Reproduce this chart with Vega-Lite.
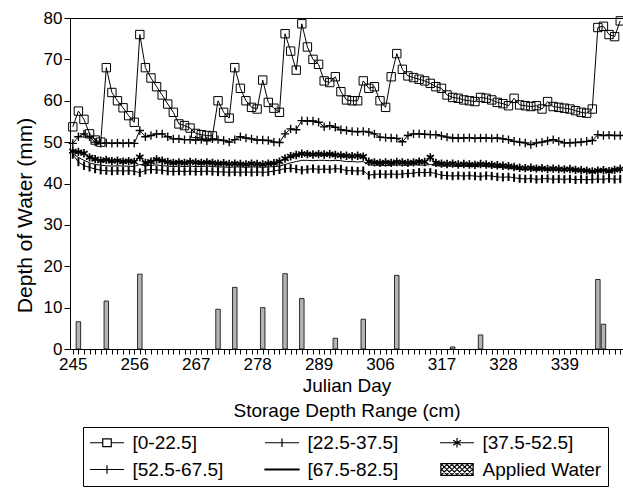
{
"$schema":"https://vega.github.io/schema/vega-lite/v6.json",
"width":553,"height":331,
"autosize":{"type":"none"},
"padding":{"left":70,"top":18,"right":0,"bottom":147},
"config":{"font":"Liberation Sans","view":{"stroke":"black","strokeWidth":1},
"axis":{"domainColor":"black","tickColor":"black","labelColor":"black","titleColor":"black","titleFontWeight":"normal","grid":false,"labelFont":"Liberation Sans","titleFont":"Liberation Sans"}},
"datasets":{
"depth":[
{"day":245,"s1":53.7,"s2":49.7,"s3":47.8,"s4":47.0,"s5":47.2},
{"day":246,"s1":57.5,"s2":51.3,"s3":47.6,"s4":45.2,"s5":46.3},
{"day":247,"s1":55.5,"s2":52.0,"s3":47.3,"s4":44.3,"s5":45.6},
{"day":248,"s1":52.0,"s2":51.3,"s3":46.3,"s4":43.9,"s5":45.0},
{"day":249,"s1":50.5,"s2":50.0,"s3":45.9,"s4":43.5,"s5":44.6},
{"day":250,"s1":50.0,"s2":49.7,"s3":45.5,"s4":43.2,"s5":44.4},
{"day":251,"s1":68.0,"s2":49.8,"s3":45.7,"s4":43.1,"s5":44.3},
{"day":252,"s1":62.0,"s2":49.7,"s3":45.4,"s4":43.0,"s5":44.2},
{"day":253,"s1":60.0,"s2":49.8,"s3":45.5,"s4":43.1,"s5":44.3},
{"day":254,"s1":58.3,"s2":49.7,"s3":45.3,"s4":43.0,"s5":44.2},
{"day":255,"s1":56.4,"s2":49.8,"s3":45.4,"s4":43.1,"s5":44.2},
{"day":256,"s1":54.8,"s2":49.7,"s3":45.2,"s4":43.0,"s5":44.1},
{"day":257,"s1":76.0,"s2":52.8,"s3":46.4,"s4":42.6,"s5":44.6},
{"day":258,"s1":68.0,"s2":51.3,"s3":45.0,"s4":43.2,"s5":44.3},
{"day":259,"s1":65.5,"s2":51.6,"s3":45.3,"s4":43.4,"s5":44.4},
{"day":260,"s1":63.4,"s2":52.0,"s3":45.8,"s4":43.3,"s5":44.5},
{"day":261,"s1":61.4,"s2":52.0,"s3":45.5,"s4":43.2,"s5":44.3},
{"day":262,"s1":59.2,"s2":51.3,"s3":45.2,"s4":43.0,"s5":44.2},
{"day":263,"s1":57.2,"s2":50.8,"s3":45.0,"s4":42.9,"s5":44.1},
{"day":264,"s1":54.4,"s2":50.8,"s3":45.1,"s4":43.0,"s5":44.2},
{"day":265,"s1":54.0,"s2":50.6,"s3":45.0,"s4":42.9,"s5":44.1},
{"day":266,"s1":53.4,"s2":50.6,"s3":45.2,"s4":43.0,"s5":44.2},
{"day":267,"s1":52.1,"s2":50.5,"s3":45.1,"s4":42.9,"s5":44.1},
{"day":268,"s1":51.8,"s2":50.6,"s3":45.0,"s4":42.9,"s5":44.1},
{"day":269,"s1":51.6,"s2":50.3,"s3":45.1,"s4":43.0,"s5":44.2},
{"day":270,"s1":51.5,"s2":50.8,"s3":45.0,"s4":42.9,"s5":44.1},
{"day":271,"s1":60.0,"s2":50.6,"s3":44.8,"s4":42.8,"s5":44.0},
{"day":272,"s1":57.2,"s2":50.4,"s3":44.9,"s4":42.8,"s5":44.0},
{"day":273,"s1":55.8,"s2":50.0,"s3":44.7,"s4":42.7,"s5":43.9},
{"day":274,"s1":68.0,"s2":50.6,"s3":44.8,"s4":42.8,"s5":44.0},
{"day":275,"s1":63.0,"s2":51.3,"s3":44.7,"s4":42.7,"s5":44.0},
{"day":276,"s1":60.0,"s2":51.0,"s3":44.6,"s4":42.8,"s5":43.9},
{"day":277,"s1":58.4,"s2":50.8,"s3":44.8,"s4":42.7,"s5":44.0},
{"day":278,"s1":58.0,"s2":50.5,"s3":44.7,"s4":42.8,"s5":44.0},
{"day":279,"s1":65.0,"s2":50.5,"s3":44.6,"s4":42.7,"s5":43.9},
{"day":280,"s1":59.6,"s2":50.4,"s3":44.8,"s4":42.8,"s5":44.0},
{"day":281,"s1":58.2,"s2":50.0,"s3":44.9,"s4":43.0,"s5":44.1},
{"day":282,"s1":57.2,"s2":49.9,"s3":45.3,"s4":43.3,"s5":44.2},
{"day":283,"s1":76.2,"s2":52.0,"s3":46.0,"s4":43.6,"s5":44.6},
{"day":284,"s1":72.0,"s2":53.2,"s3":46.6,"s4":43.7,"s5":45.0},
{"day":285,"s1":67.4,"s2":53.0,"s3":46.9,"s4":43.5,"s5":45.3},
{"day":286,"s1":78.6,"s2":55.2,"s3":47.2,"s4":43.2,"s5":45.6},
{"day":287,"s1":73.0,"s2":55.1,"s3":47.1,"s4":43.4,"s5":45.6},
{"day":288,"s1":70.0,"s2":55.1,"s3":47.0,"s4":43.6,"s5":45.5},
{"day":289,"s1":68.8,"s2":54.8,"s3":47.1,"s4":43.4,"s5":45.6},
{"day":296,"s1":64.8,"s2":53.7,"s3":47.0,"s4":43.5,"s5":45.6},
{"day":297,"s1":64.4,"s2":54.0,"s3":47.1,"s4":43.4,"s5":45.5},
{"day":298,"s1":65.8,"s2":53.6,"s3":46.9,"s4":43.6,"s5":45.6},
{"day":299,"s1":62.2,"s2":53.0,"s3":46.8,"s4":43.5,"s5":45.5},
{"day":300,"s1":60.2,"s2":52.8,"s3":46.7,"s4":43.1,"s5":45.3},
{"day":301,"s1":60.0,"s2":52.6,"s3":46.6,"s4":43.1,"s5":45.3},
{"day":302,"s1":60.0,"s2":52.5,"s3":46.7,"s4":43.0,"s5":45.2},
{"day":303,"s1":64.8,"s2":52.6,"s3":46.5,"s4":43.1,"s5":45.3},
{"day":304,"s1":63.0,"s2":52.4,"s3":45.3,"s4":42.0,"s5":44.5},
{"day":305,"s1":63.4,"s2":52.0,"s3":45.1,"s4":42.2,"s5":44.4},
{"day":306,"s1":60.0,"s2":51.2,"s3":45.0,"s4":42.3,"s5":44.4},
{"day":307,"s1":58.4,"s2":51.1,"s3":45.1,"s4":42.2,"s5":44.3},
{"day":308,"s1":65.8,"s2":51.0,"s3":45.0,"s4":42.3,"s5":44.4},
{"day":309,"s1":71.4,"s2":50.9,"s3":45.2,"s4":42.2,"s5":44.5},
{"day":310,"s1":67.6,"s2":50.1,"s3":45.1,"s4":42.3,"s5":44.4},
{"day":311,"s1":66.0,"s2":51.6,"s3":45.0,"s4":42.4,"s5":44.4},
{"day":312,"s1":65.6,"s2":52.0,"s3":45.1,"s4":42.5,"s5":44.5},
{"day":313,"s1":65.2,"s2":52.0,"s3":45.3,"s4":42.7,"s5":44.5},
{"day":314,"s1":64.8,"s2":51.9,"s3":45.2,"s4":42.6,"s5":44.4},
{"day":315,"s1":64.2,"s2":51.8,"s3":46.3,"s4":42.7,"s5":44.6},
{"day":316,"s1":63.4,"s2":51.8,"s3":45.0,"s4":42.4,"s5":44.3},
{"day":317,"s1":63.0,"s2":51.5,"s3":44.8,"s4":42.0,"s5":44.2},
{"day":318,"s1":61.4,"s2":51.2,"s3":44.7,"s4":41.9,"s5":44.2},
{"day":319,"s1":60.8,"s2":51.0,"s3":44.8,"s4":41.8,"s5":44.2},
{"day":320,"s1":60.6,"s2":51.0,"s3":44.6,"s4":41.9,"s5":44.1},
{"day":321,"s1":60.2,"s2":51.0,"s3":44.7,"s4":41.8,"s5":44.2},
{"day":322,"s1":60.0,"s2":51.1,"s3":44.6,"s4":41.9,"s5":44.1},
{"day":323,"s1":59.8,"s2":50.9,"s3":44.5,"s4":41.8,"s5":44.1},
{"day":324,"s1":60.8,"s2":51.0,"s3":44.7,"s4":41.7,"s5":44.2},
{"day":325,"s1":60.6,"s2":51.0,"s3":44.6,"s4":41.9,"s5":44.1},
{"day":326,"s1":60.2,"s2":50.9,"s3":44.5,"s4":41.8,"s5":44.0},
{"day":327,"s1":59.6,"s2":51.0,"s3":44.4,"s4":41.6,"s5":43.9},
{"day":328,"s1":59.3,"s2":50.8,"s3":44.3,"s4":41.5,"s5":43.8},
{"day":329,"s1":58.8,"s2":50.6,"s3":44.2,"s4":41.6,"s5":43.7},
{"day":330,"s1":60.6,"s2":50.2,"s3":44.0,"s4":41.4,"s5":43.5},
{"day":331,"s1":59.0,"s2":50.0,"s3":43.8,"s4":41.2,"s5":43.4},
{"day":332,"s1":58.8,"s2":49.8,"s3":43.7,"s4":41.1,"s5":43.3},
{"day":333,"s1":58.6,"s2":49.4,"s3":43.8,"s4":41.2,"s5":43.3},
{"day":334,"s1":58.8,"s2":49.8,"s3":43.6,"s4":41.0,"s5":43.2},
{"day":335,"s1":58.0,"s2":50.0,"s3":43.7,"s4":41.1,"s5":43.3},
{"day":336,"s1":59.8,"s2":50.3,"s3":43.5,"s4":41.2,"s5":43.2},
{"day":337,"s1":58.6,"s2":50.6,"s3":43.6,"s4":41.0,"s5":43.3},
{"day":338,"s1":58.4,"s2":50.2,"s3":43.5,"s4":41.1,"s5":43.2},
{"day":339,"s1":58.2,"s2":49.8,"s3":43.4,"s4":41.0,"s5":43.1},
{"day":340,"s1":58.0,"s2":49.8,"s3":43.5,"s4":41.1,"s5":43.2},
{"day":341,"s1":57.6,"s2":49.9,"s3":43.3,"s4":40.9,"s5":43.1},
{"day":342,"s1":57.2,"s2":50.0,"s3":43.2,"s4":41.0,"s5":43.0},
{"day":343,"s1":57.0,"s2":50.2,"s3":43.1,"s4":40.9,"s5":43.0},
{"day":344,"s1":58.0,"s2":50.4,"s3":42.9,"s4":41.0,"s5":42.9},
{"day":345,"s1":77.7,"s2":51.8,"s3":43.1,"s4":41.1,"s5":43.0},
{"day":346,"s1":78.0,"s2":51.6,"s3":43.2,"s4":41.0,"s5":43.1},
{"day":347,"s1":76.0,"s2":51.7,"s3":43.0,"s4":41.2,"s5":43.0},
{"day":348,"s1":75.5,"s2":51.6,"s3":43.3,"s4":41.0,"s5":43.1},
{"day":349,"s1":79.3,"s2":51.6,"s3":43.5,"s4":41.1,"s5":43.2}
],
"water":[
{"day":246,"mm":6.6},{"day":251,"mm":11.6},{"day":257,"mm":18.1},{"day":271,"mm":9.6},{"day":274,"mm":14.9},{"day":279,"mm":10.0},{"day":283,"mm":18.2},{"day":286,"mm":12.2},{"day":298,"mm":2.6},{"day":303,"mm":7.2},{"day":309,"mm":17.8},{"day":319,"mm":0.5},{"day":324,"mm":3.4},{"day":345,"mm":16.8},{"day":346,"mm":6.0}
],
"key":[
{"label":"[0-22.5]","day":245,"mm":0},{"label":"[22.5-37.5]","day":245,"mm":0},{"label":"[37.5-52.5]","day":245,"mm":0},{"label":"[52.5-67.5]","day":245,"mm":0},{"label":"[67.5-82.5]","day":245,"mm":0},{"label":"Applied Water","day":245,"mm":0}
]},
"encoding":{
"x":{"field":"day","type":"ordinal","scale":{"type":"point","padding":0.5},
"axis":{"title":["Julian Day","Storage Depth Range (cm)"],"titleFontSize":19,"titlePadding":4,"titleLineHeight":25,"labelFontSize":17,"labelAngle":0,"labelPadding":2,"tickSize":5,"labelOverlap":false,"labelBound":false,"labelExpr":"indexof([245,256,267,278,289,306,317,328,339], datum.value) >= 0 ? datum.label : ''"}},
"y":{"field":"mm","type":"quantitative","scale":{"domain":[0,80],"nice":false},
"axis":{"title":"Depth of Water (mm)","titleFontSize":21,"titlePadding":8,"titleY":197,"labelFontSize":17,"tickSize":6,"labelPadding":2,"values":[0,10,20,30,40,50,60,70,80]}}
},
"layer":[
{"data":{"name":"water"},"mark":{"type":"bar","width":4.5,"fill":"#b4b4b4","stroke":"black","strokeWidth":0.8}},
{"data":{"name":"depth"},"transform":[{"fold":["s1","s2","s3","s4","s5"],"as":["series","mm"]}],
"mark":{"type":"line","stroke":"black","strokeWidth":1},
"encoding":{"detail":{"field":"series","type":"nominal"}}},
{"data":{"name":"depth"},"transform":[{"fold":["s1","s2","s3","s4"],"as":["series","mm"]}],
"mark":{"type":"point","filled":false,"stroke":"black","opacity":1},
"encoding":{
"shape":{"field":"series","type":"nominal","legend":null,"scale":{"domain":["s1","s2","s3","s4"],"range":["square","M-1,0H1M0,-1V1","M0,-1V1M-0.87,-0.5L0.87,0.5M-0.87,0.5L0.87,-0.5","M0,-1V1"]}},
"size":{"field":"series","type":"nominal","legend":null,"scale":{"domain":["s1","s2","s3","s4"],"range":[70,70,55,60]}},
"strokeWidth":{"field":"series","type":"nominal","legend":null,"scale":{"domain":["s1","s2","s3","s4"],"range":[1,2,1,1.5]}}}},
{"data":{"name":"key"},
"mark":{"type":"point","filled":false,"stroke":"black","opacity":0},
"encoding":{
"shape":{"field":"label","type":"nominal","scale":{"domain":["[0-22.5]","[22.5-37.5]","[37.5-52.5]","[52.5-67.5]","[67.5-82.5]","Applied Water"],
"range":["M-2,0H-0.5M0.5,0H2M-0.5,-0.45H0.5V0.45H-0.5Z","M-2,0H2M0,-0.5V0.5M-0.45,0H0.45","M-2,0H2M0,-0.55V0.55M-0.45,-0.3L0.45,0.3M-0.45,0.3L0.45,-0.3","M-2,0H2M0,-0.5V0.5","M-2,-0.06H2V0.06H-2Z","M-1.9,-0.7H1.9V0.7H-1.9ZM-1.9,0.5L-1.7,0.7M-1.9,-0.1L-1.1,0.7M-1.9,-0.7L-0.5,0.7M-1.3,-0.7L0.1,0.7M-0.7,-0.7L0.7,0.7M-0.1,-0.7L1.3,0.7M0.5,-0.7L1.9,0.7M1.1,-0.7L1.9,0.1M1.7,-0.7L1.9,-0.5M-1.9,-0.5L-1.7,-0.7M-1.9,0.1L-1.1,-0.7M-1.9,0.7L-0.5,-0.7M-1.3,0.7L0.1,-0.7M-0.7,0.7L0.7,-0.7M-0.1,0.7L1.3,-0.7M0.5,0.7L1.9,-0.7M1.1,0.7L1.9,-0.1M1.7,0.7L1.9,0.5"]},
"legend":{"title":null,"orient":"none","legendX":13,"legendY":409,"direction":"horizontal","columns":3,"strokeColor":"black","fillColor":"white","padding":6,"symbolSize":289,"symbolOffset":8.5,"labelOffset":16,"symbolOpacity":1,"symbolStrokeColor":"black","symbolFillColor":"transparent","symbolStrokeWidth":1.2,"labelFont":"Liberation Sans","labelFontSize":19,"labelColor":"black","labelLimit":300,"columnPadding":38,"rowPadding":7}}}}
],
"resolve":{"scale":{"shape":"independent","size":"independent","strokeWidth":"independent"},"legend":{"shape":"independent"}}
}
